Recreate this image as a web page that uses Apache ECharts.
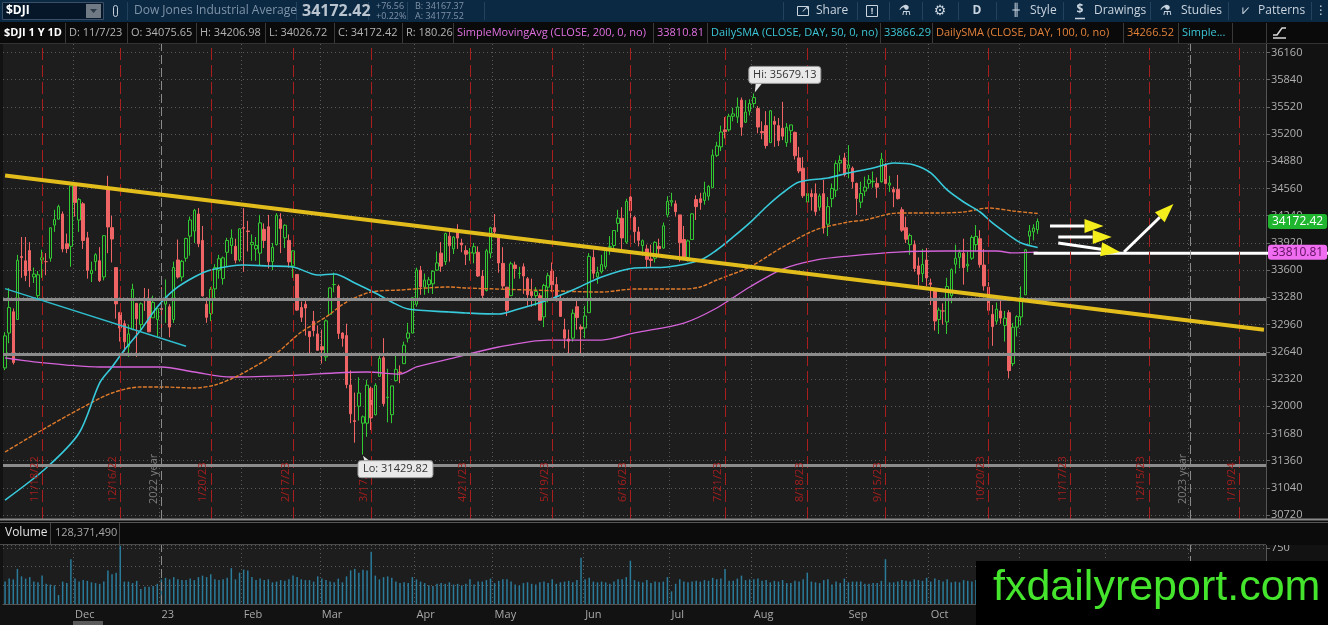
<!DOCTYPE html>
<html>
<head>
<meta charset="utf-8">
<script src="https://cdn.jsdelivr.net/npm/echarts@6/dist/echarts.min.js"></script>
<style>
  html, body { margin: 0; padding: 0; background: #121212; }
  #chart { width: 1328px; height: 625px; }
</style>
</head>
<body>
<div id="chart"></div>
<script>
// daily bars: [day, open, close, low, high, volume (millions)]
const m2211 = [
  [7,32450,32827,32424,32870,300],[8,32860,33160,32740,33390,340],[9,33110,32514,32490,33150,330],
  [10,33020,33716,33020,33780,470],[11,33760,33748,33510,33990,370],[14,33710,33537,33470,33990,340],
  [15,33830,33593,33400,33930,360],[16,33520,33554,33450,33630,300],[17,33300,33546,33240,33590,290],
  [18,33720,33746,33510,33840,380],[21,33700,33700,33540,33800,270],[22,33740,34098,33700,34100,260],
  [23,34130,34194,34050,34310,250],[25,34200,34347,34200,34370,120],[28,34260,33850,33810,34290,300],
  [29,33910,33853,33800,34030,280],[30,33880,34590,33640,34590,600]
];
const m2212 = [
  [1,34590,34395,34230,34600,340],[2,34190,34430,34050,34450,300],[5,34380,33948,33850,34400,320],
  [6,33980,33597,33500,34050,310],[7,33560,33598,33460,33700,290],[8,33700,33781,33590,33800,280],
  [9,33710,33477,33460,33870,270],[12,33520,34005,33480,34010,300],[13,34550,34108,33800,34710,450],
  [14,34100,33966,33690,34240,400],[15,33630,33203,33030,33630,420],[16,33100,32920,32760,33110,780],
  [19,32970,32757,32640,33010,300],[20,32700,32850,32580,32960,300],[21,32900,33376,32900,33440,280],
  [22,33210,33027,32580,33210,310],[23,32960,33204,32900,33220,200],[27,33250,33241,33120,33390,230],
  [28,33260,32875,32870,33380,230],[29,33040,33221,33040,33300,240],[30,33020,33147,32820,33150,270]
];
const m2301 = [
  [3,33150,33136,32810,33400,330],[4,33200,33270,32980,33490,350],[5,33170,32930,32810,33200,330],
  [6,33020,33631,32980,33700,360],[9,33720,33518,33500,33960,330],[10,33520,33704,33470,33720,320],
  [11,33740,33973,33700,33980,320],[12,34000,34190,33770,34230,340],[13,34060,34303,33920,34320,320],
  [17,34260,33910,33870,34330,360],[18,33950,33297,33290,34120,380],[19,33200,33045,32980,33280,360],
  [20,33090,33375,33000,33400,400],[23,33380,33630,33270,33670,330],[24,33600,33734,33500,33780,320],
  [25,33500,33744,33430,33760,330],[26,33810,33949,33650,33980,350],[27,33890,33978,33790,34080,480],
  [30,33880,33717,33680,33970,330],[31,33720,34086,33700,34090,420]
];
const m2302 = [
  [1,34100,34093,33580,34330,460],[2,34060,34054,33820,34180,450],[3,33900,33926,33710,34020,360],
  [6,33850,33891,33710,33990,320],[7,33800,34156,33650,34250,340],[8,34080,33949,33860,34150,320],
  [9,34110,33699,33620,34250,330],[10,33700,33869,33600,33920,290],[13,33900,34246,33890,34270,300],
  [14,34200,34089,33800,34270,320],[15,33980,34128,33860,34140,310],[16,33950,33697,33630,34020,330],
  [17,33650,33827,33510,33830,380],[21,33550,33130,33120,33550,360],[22,33160,33045,32990,33230,330],
  [23,33200,33154,32830,33250,320],[24,32880,32817,32600,32880,320],[27,33000,32889,32820,33120,300],
  [28,32850,32657,32650,32950,370]
];
const m2303 = [
  [1,32700,32662,32500,32900,340],[2,32580,33004,32530,33020,320],[3,33080,33391,33080,33400,300],
  [6,33430,33432,33340,33570,290],[7,33410,32856,32790,33430,340],[8,32860,32798,32700,32870,290],
  [9,32830,32254,32210,32970,370],[10,32250,31910,31800,32420,450],[13,31830,31820,31570,32160,470],
  [14,32000,32155,31830,32340,420],[15,31800,31875,31429.82,31890,460],[16,31800,32247,31640,32310,450],
  [17,32210,31862,31720,32230,700],[20,31900,32245,31890,32270,380],[21,32350,32561,32350,32600,330],
  [22,32570,32031,32000,32800,360],[23,32100,32106,31810,32440,370],[24,31900,32238,31800,32240,350],
  [27,32300,32432,32290,32620,300],[28,32400,32395,32270,32480,280],[29,32500,32718,32500,32760,290],
  [30,32800,32860,32750,32980,280],[31,32860,33274,32860,33280,360]
];
const m2304 = [
  [3,33200,33601,33170,33630,330],[4,33600,33403,33310,33650,300],[5,33400,33483,33310,33560,280],
  [6,33430,33486,33330,33520,250],[10,33440,33587,33320,33600,240],[11,33600,33685,33590,33820,270],
  [12,33800,33647,33580,33930,280],[13,33700,34030,33660,34040,270],[14,34000,33887,33700,34080,290],
  [17,33850,33988,33790,34000,260],[18,34060,33977,33850,34140,270],[19,33920,33897,33810,33970,250],
  [20,33830,33787,33660,33890,270],[21,33800,33809,33710,33860,330],[24,33800,33876,33680,33920,260],
  [25,33810,33531,33520,33880,300],[26,33530,33302,33260,33600,300],[27,33360,33827,33350,33850,320],
  [28,33800,34098,33740,34110,340]
];
const m2305 = [
  [1,34100,34051,33990,34260,280],[2,34000,33684,33570,34010,310],[3,33680,33414,33380,33870,330],
  [4,33400,33128,33060,33400,330],[5,33300,33675,33300,33700,300],[8,33660,33619,33500,33700,260],
  [9,33560,33562,33500,33640,250],[10,33640,33531,33320,33680,280],[11,33500,33310,33180,33520,290],
  [12,33350,33301,33170,33500,270],[15,33300,33349,33180,33400,260],[16,33300,33012,33010,33330,290],
  [17,33050,33420,32930,33440,300],[18,33400,33535,33220,33570,280],[19,33590,33427,33340,33690,330],
  [22,33430,33286,33230,33520,270],[23,33240,33056,33050,33300,290],[24,32900,32800,32680,33030,300],
  [25,32790,32765,32590,32900,310],[26,32800,33093,32760,33140,290],[30,33170,33042,32900,33250,320],
  [31,32930,32908,32590,32960,620]
];
const m2306 = [
  [1,32920,33061,32800,33180,330],[2,33100,33762,33100,33800,350],[5,33750,33563,33500,33840,300],
  [6,33520,33573,33440,33640,290],[7,33580,33665,33560,33780,300],[8,33640,33833,33610,33850,290],
  [9,33870,33876,33780,34000,270],[12,33890,34066,33860,34070,300],[13,34150,34212,34050,34310,330],
  [14,34210,33979,33840,34340,330],[15,33930,34408,33910,34440,360],[16,34460,34299,34200,34590,580],
  [20,34220,34053,33920,34240,320],[21,34050,33951,33880,34110,300],[22,33890,33946,33770,33960,290],
  [23,33850,33727,33620,33900,320],[26,33730,33714,33630,33900,280],[27,33740,33927,33690,33940,300],
  [28,33880,33852,33760,33970,290],[29,33860,34122,33850,34160,300],[30,34250,34408,34220,34470,360]
];
const m2307 = [
  [3,34400,34418,34350,34510,170],[5,34380,34288,34230,34420,270],[6,34250,33922,33700,34250,330],
  [7,33960,33734,33720,34120,300],[10,33750,33944,33700,33960,290],[11,33960,34262,33960,34270,300],
  [12,34430,34347,34190,34480,310],[13,34440,34395,34310,34510,300],[14,34420,34509,34370,34640,320],
  [17,34470,34585,34420,34600,310],[18,34570,34952,34570,35020,350],[19,34950,35061,34930,35110,330],
  [20,35050,35225,35000,35300,340],[21,35250,35228,35150,35400,470],[24,35250,35411,35230,35440,310],
  [25,35410,35438,35350,35510,310],[26,35400,35520,35330,35630,340],[27,35600,35282,35180,35630,380],
  [28,35340,35459,35330,35600,320],[31,35470,35560,35420,35610,330]
];
const m2308 = [
  [1,35560,35630,35510,35679.13,330],[2,35500,35283,35210,35530,340],[3,35230,35216,35140,35350,310],
  [4,35300,35066,35030,35470,320],[7,35100,35474,35100,35480,290],[8,35350,35315,35050,35410,310],
  [9,35300,35124,35060,35390,300],[10,35270,35176,35130,35580,320],[11,35100,35281,35050,35330,280],
  [14,35240,35308,35100,35310,280],[15,35220,34946,34900,35230,310],[16,34920,34766,34740,35050,300],
  [17,34800,34475,34450,34930,330],[18,34400,34501,34280,34620,420],[21,34500,34464,34300,34550,300],
  [22,34500,34288,34240,34620,290],[23,34340,34473,34300,34500,280],[24,34500,34099,34030,34660,320],
  [25,34140,34347,34000,34460,330],[28,34440,34560,34340,34620,260],[29,34540,34853,34460,34890,300],
  [30,34860,34891,34760,34950,280],[31,34920,34722,34700,34980,340]
];
const m2309 = [
  [1,34800,34838,34680,35070,290],[5,34800,34642,34560,34820,300],[6,34620,34443,34250,34630,300],
  [7,34400,34501,34330,34640,300],[8,34530,34577,34470,34700,270],[11,34620,34664,34560,34720,270],
  [12,34640,34646,34570,34760,280],[13,34620,34576,34450,34690,280],[14,34640,34907,34630,34980,310],
  [15,34840,34618,34540,34860,600],[18,34600,34624,34520,34710,290],[19,34550,34518,34340,34580,290],
  [20,34550,34441,34430,34720,300],[21,34310,34070,34050,34340,320],[22,34100,33964,33920,34230,310],
  [25,33900,34007,33780,34030,300],[26,33900,33619,33580,33950,330],[27,33650,33551,33390,33750,320],
  [28,33560,33667,33460,33850,310],[29,33720,33508,33410,33860,350]
];
const m2310 = [
  [2,33450,33433,33190,33500,300],[3,33380,33002,32890,33390,340],[4,33020,33130,32850,33160,320],
  [5,33120,33120,32960,33210,300],[6,32990,33408,32850,33510,330],[9,33300,33605,33210,33620,290],
  [10,33670,33740,33560,33900,300],[11,33750,33805,33620,33840,290],[12,33800,33631,33430,33970,320],
  [13,33650,33670,33580,33820,310],[16,33740,33985,33720,34010,300],[17,33900,33997,33820,34130,320],
  [18,33970,33665,33630,34070,330],[19,33660,33415,33360,33850,350],[20,33400,33127,33100,33460,400],
  [23,33080,32936,32710,33190,350],[24,33000,33141,32960,33220,330],[25,33120,33036,32970,33250,340],
  [26,32950,33035,32760,33120,360],[27,33100,32418,32327,33130,380],[30,32500,32929,32470,32980,340],
  [31,32930,33053,32820,33070,360]
];
const m2311 = [
  [1,33050,33275,32950,33410,380],[2,33310,33839,33310,33850,400],[3,34000,34061,33900,34130,400],
  [6,34050,34096,33950,34140,330],[7,34075.65,34172.42,34026.72,34206.98,128]
];

// empty trading days to the right of the last bar
const f2311 = [8,9,10,13,14,15,16,17,20,21,22,24,27,28,29,30];
const f2312 = [1,4,5,6,7,8,11,12,13,14,15,18,19,20,21,22,26,27,28,29];
const f2401 = [2,3,4,5,8,9,10,11,12,16,17,18,19,22,23,24,25,26,29];

// moving averages: [bar index, value]
const sma50 = [[0,30896],[10,31273],[18,31684],[23,32273],[26,32461],[29,32661],[33,32896],[37,33167],
  [41,33366],[46,33519],[50,33602],[58,33661],[64,33649],[70,33637],[76,33543],[80,33555],[85,33449],
  [90,33331],[94,33225],[98,33143],[108,33108],[112,33096],[120,33084],[124,33131],[132,33249],[138,33366],
  [145,33519],[153,33625],[161,33637],[169,33719],[173,33837],[177,33990],[181,34155],[185,34343],
  [189,34508],[193,34637],[200,34684],[205,34743],[211,34801],[216,34860],[221,34837],[225,34743],
  [229,34543],[233,34402],[237,34284],[240,34155],[244,34013],[247,33919],[251,33866.29]];
const sma100 = [[0,31461],[9,31720],[19,31990],[26,32155],[33,32226],[38,32226],[46,32214],[51,32249],
  [57,32367],[66,32626],[72,32872],[78,33049],[83,33225],[89,33343],[96,33366],[108,33402],[112,33390],
  [128,33366],[145,33343],[153,33378],[165,33378],[169,33402],[173,33484],[181,33637],[189,33872],
  [197,34072],[205,34166],[209,34190],[217,34272],[225,34272],[233,34284],[239,34331],[245,34296],[251,34266.52]];
const sma200 = [[0,32567],[7,32520],[15,32484],[23,32461],[38,32461],[46,32402],[55,32343],[72,32367],
  [80,32390],[88,32402],[96,32378],[100,32461],[108,32555],[120,32696],[132,32778],[145,32778],[153,32861],
  [165,32978],[173,33155],[181,33402],[189,33613],[197,33719],[205,33766],[217,33813],[229,33825],
  [241,33825],[245,33802],[251,33810.81]];

// drawings
const grayLevels = [33261, 32614, 31308];
const yellowTrend = [[0, 34712], [306, 32898]];
const cyanTrend = [[0, 33383], [44, 32704]];
const whiteLevel = [250, 33811];
const arrowTails = [[254.2, 34119], [255.6, 33990], [255.6, 33919], [271.7, 33814]];
const arrowTips = [[266.6, 34119], [268.5, 33990], [271.2, 33814], [283.6, 34378]];

const expiryDates = ['2022-11-18','2022-12-16','2023-01-20','2023-02-17','2023-03-17','2023-04-21','2023-05-19',
  '2023-06-16','2023-07-21','2023-08-18','2023-09-15','2023-10-20','2023-11-17','2023-12-15','2024-01-19'];
const expiryLabels = ['11/18/22','12/16/22','1/20/23','2/17/23','3/17/23','4/21/23','5/19/23',
  '6/16/23','7/21/23','8/18/23','9/15/23','10/20/23','11/17/23','12/15/23','1/19/24'];
const yearDates = ['2023-01-03', '2024-01-02'];
const yearLabels = ['2022 year', '2023 year'];
const monthNames = ['Jan','Feb','Mar','Apr','May','Jun','Jul','Aug','Sep','Oct','Nov','Dec'];

const barMonths = [['2022-11', m2211], ['2022-12', m2212], ['2023-01', m2301], ['2023-02', m2302],
  ['2023-03', m2303], ['2023-04', m2304], ['2023-05', m2305], ['2023-06', m2306], ['2023-07', m2307],
  ['2023-08', m2308], ['2023-09', m2309], ['2023-10', m2310], ['2023-11', m2311]];
const futureMonths = [['2023-11', f2311], ['2023-12', f2312], ['2024-01', f2401]];

const pad = (n) => String(n).padStart(2, '0');
const dates = [], candles = [], volumes = [];
barMonths.forEach(([ym, rows]) => rows.forEach(([d, o, c, l, h, v]) => {
  dates.push(`${ym}-${pad(d)}`);
  candles.push([o, c, l, h]);
  volumes.push(v);
}));
futureMonths.forEach(([ym, days]) => days.forEach((d) => dates.push(`${ym}-${pad(d)}`)));
const monthStart = dates.map((d, i) => i > 0 && d.slice(0, 7) !== dates[i - 1].slice(0, 7));

const last = candles[candles.length - 1];
const lastSma = (arr) => arr[arr.length - 1][1];

const FONT = 'Open Sans';
const dotted = { color: '#5a5a5a', type: [1, 3], width: 1 };
const GRID_X = { left: 3, right: 62 };
const clear = 'rgba(0,0,0,0)';

const chart = echarts.init(document.getElementById('chart'));

chart.setOption({
  animation: false,
  backgroundColor: '#121212',
  textStyle: { fontFamily: FONT },
  grid: [
    { ...GRID_X, top: 52.5, height: 462.5 },
    { ...GRID_X, top: 44, height: 475, show: true, backgroundColor: '#1d1d1d', borderWidth: 0 },
    { ...GRID_X, top: 545, height: 59, show: true, backgroundColor: '#1d1d1d', borderWidth: 0 },
  ],
  xAxis: [
    { type: 'category', gridIndex: 0, data: dates, show: false },
    {
      type: 'category', gridIndex: 1, data: dates,
      axisLine: { show: false }, axisTick: { show: false }, axisLabel: { show: false },
      splitLine: { show: true, interval: (i) => monthStart[i], lineStyle: dotted },
    },
    {
      type: 'category', gridIndex: 2, data: dates,
      axisLine: { show: true, lineStyle: { color: '#555' } }, axisTick: { show: false },
      axisLabel: {
        interval: (i) => monthStart[i], color: '#a8a8a8', fontSize: 11, align: 'left', margin: 5,
        formatter: (v) => (v.slice(5, 7) === '01' ? v.slice(2, 4) : monthNames[+v.slice(5, 7) - 1]),
      },
      splitLine: { show: true, interval: (i) => monthStart[i], lineStyle: dotted },
    },
  ],
  yAxis: [
    {
      type: 'value', gridIndex: 0, position: 'right', min: 30720, max: 36160, interval: 320,
      axisLine: { show: false }, axisTick: { show: true, length: 4, lineStyle: { color: '#666' } },
      axisLabel: { color: '#b0b0b0', fontSize: 11, margin: 5, formatter: (v) => String(v) },
      splitLine: { show: true, lineStyle: dotted },
    },
    {
      type: 'value', gridIndex: 1, position: 'right', min: 0, max: 1,
      axisLine: { show: true, lineStyle: { color: '#555' } }, axisTick: { show: false },
      axisLabel: { show: false }, splitLine: { show: false },
    },
    {
      type: 'value', gridIndex: 2, position: 'right', min: 0, max: 790, interval: 250,
      axisLine: { show: true, lineStyle: { color: '#555' } },
      axisTick: { show: true, length: 4, lineStyle: { color: '#666' } },
      axisLabel: { color: '#b0b0b0', fontSize: 11, margin: 5, showMaxLabel: false, showMinLabel: false, formatter: (v) => String(v) },
      splitLine: { show: true, lineStyle: dotted },
    },
  ],
  series: [
    {
      type: 'line', xAxisIndex: 1, yAxisIndex: 1, data: [], silent: true,
      markLine: {
        symbol: ['none', 'none'], silent: true, label: { show: false },
        data: [
          ...expiryDates.map((d) => ({ xAxis: d, lineStyle: { color: '#a81d1d', type: [12, 5], width: 1 } })),
          ...yearDates.map((d) => ({ xAxis: d, lineStyle: { color: '#8a8a8a', type: [9, 4], width: 1 } })),
        ],
      },
    },
    {
      type: 'candlestick', xAxisIndex: 0, yAxisIndex: 0, data: candles, barWidth: 3,
      itemStyle: { color: '#1d1d1d', color0: '#ef6464', borderColor: '#33c933', borderColor0: '#ef6464', borderWidth: 1 },
      markLine: {
        symbol: ['none', 'none'], silent: true, label: { show: false },
        data: [
          ...grayLevels.map((v) => ({ yAxis: v, lineStyle: { color: '#8c8c8c', width: 3, type: 'solid' } })),
          [{ coord: cyanTrend[0], lineStyle: { color: '#2fbccc', width: 1.5, type: 'solid' } }, { coord: cyanTrend[1] }],
          [{ coord: yellowTrend[0], lineStyle: { color: '#e2bd1c', width: 4, type: 'solid' } }, { coord: yellowTrend[1] }],
        ],
      },
    },
    { type: 'line', xAxisIndex: 0, yAxisIndex: 0, data: sma200, symbol: 'none', smooth: 0.3, lineStyle: { color: '#d462d8', width: 1.3 } },
    { type: 'line', xAxisIndex: 0, yAxisIndex: 0, data: sma100, symbol: 'none', smooth: 0.3, lineStyle: { color: '#e07b2b', width: 1.4, type: [4, 1.5] } },
    { type: 'line', xAxisIndex: 0, yAxisIndex: 0, data: sma50, symbol: 'none', smooth: 0.3, lineStyle: { color: '#38cadb', width: 1.6 } },
    {
      type: 'bar', xAxisIndex: 2, yAxisIndex: 2, data: volumes, barWidth: 1.5, itemStyle: { color: '#2b7b9b' },
      markLine: {
        symbol: ['none', 'none'], silent: true, label: { show: false },
        data: yearDates.map((d) => ({ xAxis: d, lineStyle: { color: '#8a8a8a', type: [9, 4], width: 1 } })),
      },
    },
    {
      // axis price tags: last close and 200-day average
      type: 'line', xAxisIndex: 0, yAxisIndex: 0, data: [], silent: true, z: 20,
      markLine: {
        z: 30, symbol: ['none', 'none'], silent: true,
        data: [
          {
            yAxis: last[1], lineStyle: { color: clear },
            label: { show: true, position: 'end', distance: 2, formatter: last[1].toFixed(2), color: '#ffffff',
              backgroundColor: '#1fb52f', padding: [2, 4, 1, 4], borderRadius: 3, fontSize: 12 },
          },
          {
            yAxis: lastSma(sma200), lineStyle: { color: clear },
            label: { show: true, position: 'end', distance: 2, formatter: lastSma(sma200).toFixed(2), color: '#5c0f5c',
              backgroundColor: '#f06cf0', padding: [2, 4, 1, 4], borderRadius: 3, fontSize: 12 },
          },
        ],
      },
    },
  ],
});

// ---- overlay drawings (positions come from the chart's own scales) ----
function T(x, y, text, fill, size, o = {}) {
  return {
    type: 'text', x, y, silent: true, z: o.z || 50, rotation: o.rotation || 0,
    style: { text, fill, fontSize: size, fontFamily: o.family || FONT, fontWeight: o.weight || 'normal',
      align: o.align || 'left', verticalAlign: o.valign || 'middle' },
  };
}
function R(x, y, width, height, fill, stroke, z = 40, r = 0) {
  return { type: 'rect', silent: true, z, shape: { x, y, width, height, r }, style: { fill, stroke: stroke || null, lineWidth: 1 } };
}
function L(x1, y1, x2, y2, stroke, width = 1, z = 45) {
  return { type: 'line', silent: true, z, shape: { x1, y1, x2, y2 }, style: { stroke, lineWidth: width } };
}
const toPx = (i, p) => chart.convertToPixel({ xAxisIndex: 0, yAxisIndex: 0 }, [i, p]);
const frameX = (d) => chart.convertToPixel({ xAxisIndex: 1, yAxisIndex: 1 }, [d, 0])[0];

const els = [];

// top toolbar
els.push(R(0, 0, 1328, 22, '#0c2944', null, 40));
els.push(R(2.5, 2.5, 101, 17, '#07172a', '#3a5068', 41));
els.push(T(6, 11, '$DJI', '#ffffff', 12, { weight: 'bold' }));
els.push(R(86, 4, 15, 14, '#6f7a84', null, 42));
els.push({ type: 'polygon', silent: true, z: 43, shape: { points: [[90, 9], [97, 9], [93.5, 13]] }, style: { fill: '#2b3a48' } });
els.push(R(113.5, 5.5, 4, 11, null, '#c6ced6', 42, 2));
els.push(T(134, 11, 'Dow Jones Industrial Average', '#7f93a8', 12));
els.push(T(302, 11, last[1].toFixed(2), '#b9c4cf', 16, { weight: 'bold' }));
els.push(T(376, 6, '+76.56', '#7f93a8', 9));
els.push(T(376, 16, '+0.22%', '#7f93a8', 9));
els.push(T(415, 6, 'B: 34167.37', '#7f93a8', 9));
els.push(T(415, 16, 'A: 34177.52', '#7f93a8', 9));
[127, 296, 368, 407, 484, 783, 857, 889, 922, 958, 996, 1063, 1150, 1228, 1311].forEach((x) =>
  els.push(L(x + 0.5, 2, x + 0.5, 20, '#22425e', 1, 41)));
const tb = '#c9d4de';
els.push(R(797.5, 6.5, 11, 9, null, tb, 42));
els.push(T(801, 9, '↗', tb, 10));
els.push(T(816, 11, 'Share', tb, 12));
els.push(R(866.5, 5.5, 11, 11, null, tb, 42));
els.push(T(872, 11, '!', tb, 9, { align: 'center', weight: 'bold' }));
els.push(T(905, 11, '⚗', tb, 14, { align: 'center', family: 'DejaVu Sans' }));
els.push(T(940, 11, '⚙', tb, 14, { align: 'center', family: 'DejaVu Sans' }));
els.push(T(977, 11, 'D', tb, 12, { align: 'center', weight: 'bold' }));
els.push(T(1016, 11, '╫', tb, 12, { align: 'center', family: 'DejaVu Sans' }));
els.push(T(1030, 11, 'Style', tb, 12));
els.push(T(1080, 10, '$', tb, 12, { align: 'center', weight: 'bold' }));
els.push(L(1075, 18.5, 1085, 18.5, tb, 1.5, 42));
els.push(T(1094, 11, 'Drawings', tb, 12));
els.push(T(1166, 11, '⚗', tb, 14, { align: 'center', family: 'DejaVu Sans' }));
els.push(T(1181, 11, 'Studies', tb, 12));
els.push(T(1245, 11, '⩗', tb, 13, { align: 'center', family: 'DejaVu Sans' }));
els.push(T(1258, 11, 'Patterns', tb, 12));
els.push(T(1321, 11, '⋮', tb, 12, { align: 'center', family: 'DejaVu Sans' }));

// legend row
els.push(R(0, 22, 1328, 21.5, '#0a0a0a', null, 40));
els.push(L(0, 43.5, 1328, 43.5, '#333', 1, 41));
const gray = '#b4b4b4', mag = '#e070e0', cyan = '#3cc6d6', orange = '#e2813a';
const legendCells = [
  [4, '$DJI 1 Y 1D', '#ffffff', 'bold'],
  [69, 'D: 11/7/23', gray],
  [131, `O: ${last[0].toFixed(2)}`, gray],
  [200, `H: ${last[3].toFixed(2)}`, gray],
  [269, `L: ${last[2].toFixed(2)}`, gray],
  [338, `C: ${last[1].toFixed(2)}`, gray],
  [406, `R: ${(last[3] - last[2]).toFixed(2)}`, gray],
  [457, 'SimpleMovingAvg (CLOSE, 200, 0, no)', mag],
  [657, lastSma(sma200).toFixed(2), mag],
  [711, 'DailySMA (CLOSE, DAY, 50, 0, no)', cyan],
  [884, lastSma(sma50).toFixed(2), cyan],
  [936, 'DailySMA (CLOSE, DAY, 100, 0, no)', orange],
  [1127, lastSma(sma100).toFixed(2), orange],
  [1182, 'Simple...', cyan],
];
legendCells.forEach(([x, t, c, w]) => els.push(T(x, 33, t, c, 11, { weight: w || 'normal' })));
[65, 127, 196, 265, 334, 402, 453, 653, 707, 880, 932, 1123, 1178, 1232, 1266].forEach((x) =>
  els.push(L(x + 0.5, 23, x + 0.5, 43, '#3a3a3a', 1, 41)));
els.push(L(1273, 38, 1286, 38, '#d8d8d8', 1.5, 42));
els.push({ type: 'polyline', silent: true, z: 42, shape: { points: [[1273, 35], [1277, 35], [1282, 28], [1286, 28]] }, style: { stroke: '#d8d8d8', lineWidth: 1.5, fill: null } });

// panel divider + volume header
els.push(R(0, 519, 1328, 26, '#0b0b0b', null, 40));
els.push(L(0, 519.5, 1328, 519.5, '#8a8a8a', 2, 41));
els.push(L(0, 522.5, 1328, 522.5, '#555', 1, 41));
els.push(L(0, 544.5, 1266, 544.5, '#4a4a4a', 1, 41));
els.push(T(5, 533, 'Volume', '#e4e4e4', 12));
els.push(T(55, 533, '128,371,490', '#a6a6a6', 11));
[50, 119].forEach((x) => els.push(L(x + 0.5, 523, x + 0.5, 544, '#444', 1, 41)));
els.push(R(73, 621, 30, 4, '#5a5a5a', null, 41));

// vertical line labels
expiryDates.forEach((d, i) =>
  els.push(T(frameX(d) - 2, 502, expiryLabels[i], '#a51e1e', 11, { rotation: Math.PI / 2, valign: 'bottom' })));
yearDates.forEach((d, i) =>
  els.push(T(frameX(d) - 2, 504, yearLabels[i], '#7c7c7c', 11, { rotation: Math.PI / 2, valign: 'bottom' })));

// Hi / Lo bubbles
let hiIdx = 0, loIdx = 0;
candles.forEach((c, i) => {
  if (c[3] > candles[hiIdx][3]) hiIdx = i;
  if (c[2] < candles[loIdx][2]) loIdx = i;
});
const hi = toPx(hiIdx, candles[hiIdx][3]);
const lo = toPx(loIdx, candles[loIdx][2]);
els.push({ type: 'polygon', silent: true, z: 55, shape: { points: [[hi[0] + 2, hi[1] - 11], [hi[0] + 9, hi[1] - 11], [hi[0] + 1, hi[1] - 1]] }, style: { fill: '#e9e9e9' } });
els.push(R(hi[0] - 5, hi[1] - 27, 72, 17, '#e9e9e9', '#9a9a9a', 56, 3));
els.push(T(hi[0] + 31, hi[1] - 18.5, `Hi: ${candles[hiIdx][3].toFixed(2)}`, '#333', 11, { align: 'center', z: 57 }));
els.push({ type: 'polygon', silent: true, z: 55, shape: { points: [[lo[0], lo[1] + 1], [lo[0] + 2, lo[1] + 8], [lo[0] + 9, lo[1] + 8]] }, style: { fill: '#e9e9e9' } });
els.push(R(lo[0] - 5, lo[1] + 6, 75, 17, '#e9e9e9', '#9a9a9a', 56, 3));
els.push(T(lo[0] + 32.5, lo[1] + 14.5, `Lo: ${candles[loIdx][2].toFixed(2)}`, '#333', 11, { align: 'center', z: 57 }));

// white level (kept under the axis price tags) and arrows
const wl = toPx(whiteLevel[0], whiteLevel[1]);
els.push(L(wl[0], wl[1] + 1, 1328, wl[1] + 1, '#ffffff', 3, 4));
arrowTails.forEach((tail, i) => {
  const a = toPx(tail[0], tail[1]);
  const b = toPx(arrowTips[i][0], arrowTips[i][1]);
  const dx = b[0] - a[0], dy = b[1] - a[1], len = Math.hypot(dx, dy);
  const ux = dx / len, uy = dy / len;
  const head = 19, half = 7;
  const base = [b[0] - ux * head, b[1] - uy * head];
  els.push(L(a[0], a[1], base[0], base[1], '#ffffff', 3, 60));
  els.push({
    type: 'polygon', silent: true, z: 61,
    shape: { points: [b, [base[0] - uy * half, base[1] + ux * half], [base[0] + uy * half, base[1] - ux * half]] },
    style: { fill: '#f3ee1c' },
  });
});

// watermark
els.push(R(976, 561, 352, 64, '#000000', null, 100));
els.push(T(993, 588, 'fxdailyreport.com', '#44e52c', 43, { family: 'Liberation Sans', z: 101 }));

chart.setOption({ graphic: { elements: els } });
</script>
</body>
</html>
